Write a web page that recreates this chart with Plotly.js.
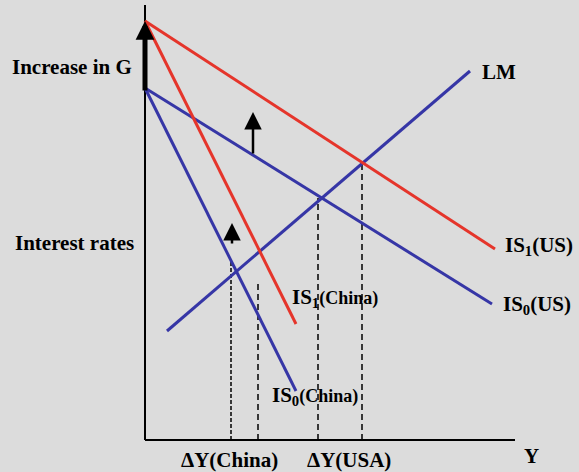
<!DOCTYPE html>
<html>
<head>
<meta charset="utf-8">
<script src="https://cdn.plot.ly/plotly-3.0.1.min.js"></script>
<style>html,body{margin:0;padding:0;background:#dcdcdc;}</style>
</head>
<body>
<div id="chart" style="width:579px;height:472px;"></div>
<script>
// Curve endpoints (output Y on x-axis, interest rate on y-axis)
const is1US_x = [0, 87.5];     const is1US_y = [104.75, 47.75];
const is1CN_x = [0, 37.75];    const is1CN_y = [104.75, 29];
const is0US_x = [0, 86.75];    const is0US_y = [88, 34];
const is0CN_x = [0, 37.75];    const is0CN_y = [88, 12.25];
const lm_x = [5.5, 81.25];     const lm_y = [27.25, 92.25];
// dashed drop lines: x position and top
const drop_x = [21.5, 28.25, 43.25, 54.25];
const drop_top = [45.25, 39.75, 60.5, 68.75];
// axes extents
const axisX = [0, 92.5];
const axisY = [0, 108.75];
// shift arrows: [x, yFrom, yTo]
const bigArrow = [0, 87, 104.75];
const arrowUS = [27, 71.25, 82];
const arrowCN = [21.75, 48.75, 54.25];

const RED = '#e5352b', BLUE = '#3636a6';
const FONT = '"Liberation Serif", "Times New Roman", serif';

const traces = [];
// axes
traces.push({x:[axisX[0], axisX[0]], y:[axisY[0], axisY[1]], mode:'lines', line:{color:'#000', width:2}});
traces.push({x:[axisX[0], axisX[1]], y:[axisY[0], axisY[0]], mode:'lines', line:{color:'#000', width:2}});
// dashed drops
drop_x.forEach((dx, i) => {
  traces.push({x:[dx, dx], y:[0, drop_top[i]], mode:'lines',
    line:{color:'#000', width:1.5, dash: i === 0 ? '4px,2px' : '6px,4px'}});
});
// curves
traces.push({x:is0CN_x, y:is0CN_y, mode:'lines', line:{color:BLUE, width:3}});
traces.push({x:is0US_x, y:is0US_y, mode:'lines', line:{color:BLUE, width:3}});
traces.push({x:lm_x, y:lm_y, mode:'lines', line:{color:BLUE, width:3}});
traces.push({x:is1CN_x, y:is1CN_y, mode:'lines', line:{color:RED, width:3}});
traces.push({x:is1US_x, y:is1US_y, mode:'lines', line:{color:RED, width:3}});

function arrow(a, w, s) {
  return {x:a[0], y:a[2], ax:a[0], ay:a[1], xref:'x', yref:'y', axref:'x', ayref:'y',
    showarrow:true, arrowhead:2, arrowwidth:w, arrowsize:s, arrowcolor:'#000', standoff:0, text:''};
}
function label(x, y, t, anchor) {
  return {x:x, y:y, xref:'x', yref:'y', text:'<b>'+t+'</b>', showarrow:false,
    xanchor:anchor || 'left', yanchor:'middle', font:{family:FONT, size:21, color:'#000'}};
}
const small = s => '<span style="font-size:18px">'+s+'</span>';

const annotations = [
  arrow(bigArrow, 5, 0.75),
  arrow(arrowUS, 2.5, 1.4),
  arrow(arrowCN, 2.5, 1.4),
  label(-2.75, 93.25, 'Increase in G', 'right'),
  label(-2.25, 49.25, 'Interest rates', 'right'),
  label(83.75, 92, 'LM'),
  label(89.5, 48.5, 'IS<sub>1</sub>(US)'),
  label(89, 33.75, 'IS<sub>0</sub>(US)'),
  label(36.25, 35.5, 'IS<sub>1</sub>' + small('(China)')),
  label(31.25, 11, 'IS<sub>0</sub>' + small('(China)')),
  label(21, -5, '\u0394Y(China)', 'center'),
  label(51, -5, '\u0394Y(USA)', 'center'),
  label(96.5, -4, 'Y', 'center')
];

const layout = {
  width:579, height:472,
  margin:{l:0, r:0, t:0, b:0},
  paper_bgcolor:'#dcdcdc', plot_bgcolor:'#dcdcdc',
  showlegend:false,
  xaxis:{range:[-36.25, 108.5], visible:false, fixedrange:true},
  yaxis:{range:[-8, 110], visible:false, fixedrange:true},
  annotations: annotations
};
Plotly.newPlot('chart', traces, layout, {displayModeBar:false, staticPlot:true});
</script>
</body>
</html>
